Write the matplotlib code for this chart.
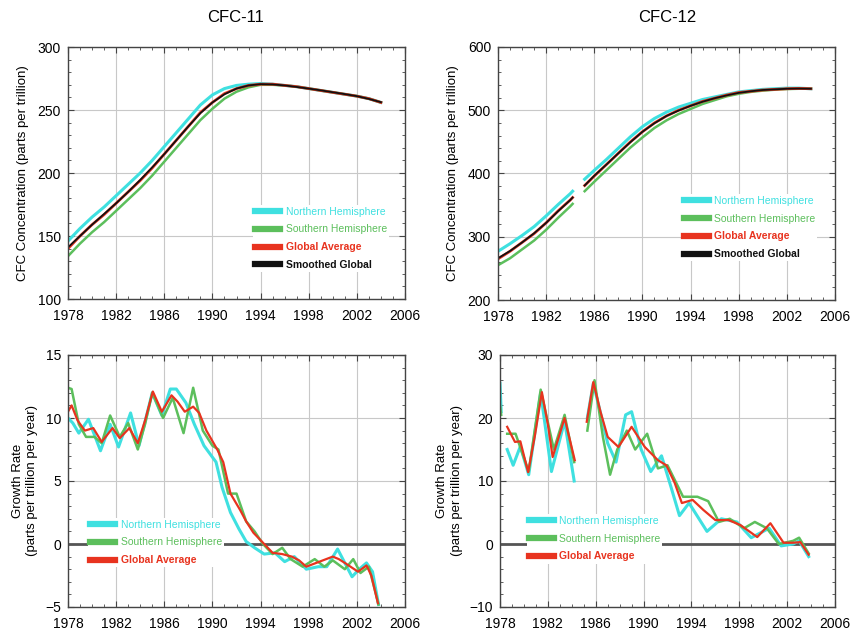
import numpy as np
import matplotlib
matplotlib.use("Agg")
import matplotlib.pyplot as plt
from matplotlib.lines import Line2D
from matplotlib.ticker import MultipleLocator

plt.rcParams['font.family'] = ['Liberation Sans', 'DejaVu Sans']

nan = np.nan

# ------------------------------------------------------------
# Data
# ------------------------------------------------------------
year_ticks = [1978, 1982, 1986, 1990, 1994, 1998, 2002, 2006]

# CFC-11 concentration (ppt)
c11_years = [1978, 1979, 1980, 1981, 1982, 1983, 1984, 1985, 1986, 1987, 1988, 1989, 1990,
             1991, 1992, 1993, 1994, 1995, 1996, 1997, 1998, 1999, 2000, 2001, 2002, 2003, 2004]
c11_nh = [146, 156, 165, 173, 182, 191, 200, 210, 221, 232, 243, 254, 262,
          267, 269.5, 270.5, 271, 270.5, 269.5, 268.5, 267, 265.5, 264, 262.5, 261, 259, 256]
c11_sh = [134, 144, 153, 161, 170, 179, 188, 198, 209, 220, 231, 242, 251,
          259, 264.5, 268, 270, 270, 269.5, 268.5, 267, 265.5, 264, 262.5, 261, 259, 256]
c11_glob = [140, 150, 159, 167, 176, 185, 194, 204, 215, 226, 237, 248, 256,
            263, 267, 269.5, 270.5, 270.5, 269.5, 268.5, 267, 265.5, 264, 262.5, 261, 259, 256]
c11_smooth = [141, 150, 159, 167.5, 176, 185, 194.5, 204.5, 215, 226, 237, 247.5, 256,
              262.5, 267, 269.5, 270.5, 270.3, 269.5, 268.3, 267, 265.6, 264.1, 262.6, 261, 258.8, 256.2]

# CFC-12 concentration (ppt), gap in 1984-85
c12_years = [1978, 1979, 1980, 1981, 1982, 1983, 1984, 1984.2, 1984.7, 1985.2, 1986, 1987, 1988,
             1989, 1990, 1991, 1992, 1993, 1994, 1995, 1996, 1997, 1998, 1999, 2000, 2001, 2002, 2003, 2004]
c12_nh = [277, 289, 302, 316, 333, 351, 368, 372, nan, 391, 405, 422, 440,
          458, 474, 487, 497, 505, 511, 517, 521, 525, 529, 531, 533, 534, 535, 535, 534]
c12_sh = [255, 266, 280, 294, 311, 330, 348, 352, nan, 372, 387, 405, 423,
          441, 457, 472, 484, 494, 502, 510, 516, 522, 526, 529, 531, 532.5, 533.5, 534, 534]
c12_glob = [265, 277, 291, 305, 322, 341, 358, 362, nan, 381, 396, 414, 432,
            450, 466, 480, 491, 500, 507, 514, 519, 524, 528, 530, 532, 533, 534, 534.5, 534]
c12_smooth = [266, 277.5, 291, 305.5, 322, 340.5, 358, 362, nan, 381, 396.5, 414, 432,
              449.5, 466, 479.5, 491, 499.5, 507, 513.5, 519, 523.5, 527.5, 530, 532, 533, 534, 534.3, 534]

# CFC-11 growth rate (ppt/yr)
g11_nh_yr = [1978.0, 1978.4, 1978.9, 1979.7, 1980.7, 1981.5, 1982.2, 1983.2, 1983.9, 1985.0, 1985.8,
             1986.5, 1987.0, 1987.8, 1988.5, 1989.3, 1990.3, 1990.8, 1991.5, 1992.2, 1992.8, 1993.5,
             1994.3, 1995.2, 1996.0, 1996.8, 1997.8, 1998.8, 1999.5, 2000.4, 2001.0, 2001.6, 2002.2,
             2002.8, 2003.3, 2003.8]
g11_nh = [10.0, 9.6, 8.8, 9.9, 7.4, 9.5, 7.7, 10.4, 7.8, 12.0, 10.2,
          12.3, 12.3, 11.2, 9.5, 7.8, 6.5, 4.5, 2.5, 1.2, 0.2, -0.3,
          -0.8, -0.7, -1.4, -1.0, -2.0, -1.8, -1.8, -0.4, -1.5, -2.6, -2.0,
          -1.5, -2.2, -4.8]
g11_sh_yr = [1978.0, 1978.3, 1978.9, 1979.5, 1980.2, 1980.8, 1981.5, 1982.3, 1983.0, 1983.8, 1984.4,
             1985.0, 1985.9, 1986.7, 1987.6, 1988.4, 1989.2, 1990.0, 1990.5, 1991.3, 1992.0, 1992.8,
             1993.5, 1994.2, 1995.0, 1995.8, 1996.5, 1997.5, 1998.5, 1999.3, 2000.0, 2001.0, 2001.7,
             2002.3, 2003.0, 2003.8]
g11_sh = [12.4, 12.3, 9.5, 8.5, 8.5, 8.0, 10.2, 8.5, 9.6, 7.5, 9.5,
          12.0, 10.0, 11.6, 8.8, 12.4, 9.0, 7.8, 7.5, 4.0, 4.0, 1.8,
          1.0, 0.0, -0.8, -0.3, -1.2, -1.8, -1.2, -1.8, -1.3, -2.0, -1.2,
          -2.3, -1.8, -4.8]
g11_glob_yr = [1978.0, 1978.3, 1978.8, 1979.4, 1980.1, 1980.8, 1981.7, 1982.3, 1983.1, 1983.8, 1984.4,
               1985.05, 1985.8, 1986.6, 1987.1, 1987.7, 1988.4, 1988.9, 1989.5, 1990.4, 1990.9, 1991.5,
               1992.3, 1992.8, 1993.4, 1994.2, 1995.0, 1995.8, 1996.6, 1997.2, 1997.8, 1998.9, 2000.0,
               2000.5, 2001.0, 2002.1, 2002.8, 2003.2, 2003.75]
g11_glob = [10.5, 11.0, 9.8, 9.0, 9.2, 8.1, 9.2, 8.4, 9.2, 8.0, 9.8,
            12.1, 10.5, 11.8, 11.3, 10.5, 10.9, 10.4, 9.0, 7.5, 6.5, 4.0,
            2.7, 1.8, 0.9, 0.1, -0.7, -0.8, -1.0, -1.3, -1.8, -1.4, -1.0,
            -1.2, -1.5, -2.2, -1.7, -2.5, -4.7]

# CFC-12 growth rate (ppt/yr)
g12_nh_yr = [1978.0, 1978.1, 1978.3, 1978.6, 1979.1, 1979.7, 1980.4, 1981.4, 1982.3, 1983.4, 1984.2,
             1984.7, 1985.3, 1985.8, 1986.5, 1987.0, 1987.7, 1988.5, 1989.0, 1989.8, 1990.6, 1991.5,
             1992.3, 1993.0, 1993.8, 1995.3, 1996.5, 1997.8, 1999.0, 2000.5, 2001.5, 2002.5, 2003.0,
             2003.8]
g12_nh = [25.5, 21.0, nan, 15.0, 12.5, 15.5, 11.0, 24.0, 11.5, 19.5, 10.0,
          nan, 20.0, 25.5, 20.0, 16.0, 13.0, 20.5, 21.0, 15.0, 11.5, 14.0,
          9.0, 4.5, 6.5, 2.0, 4.0, 3.5, 1.0, 2.5, -0.3, 0.0, 0.5,
          -2.0]
g12_sh_yr = [1978.0, 1978.1, 1978.3, 1978.6, 1979.3, 1980.4, 1981.4, 1982.5, 1983.4, 1984.2,
             1984.7, 1985.3, 1985.9, 1986.6, 1987.2, 1987.8, 1988.6, 1989.3, 1990.3, 1991.2, 1992.0,
             1993.3, 1994.5, 1995.4, 1996.3, 1997.2, 1998.4, 1999.3, 2000.3, 2001.3, 2002.5, 2003.0,
             2003.8]
g12_sh = [22.0, 20.5, nan, 17.5, 17.5, 11.5, 24.5, 15.0, 20.5, 13.0,
          nan, 18.0, 26.0, 17.0, 11.0, 15.0, 18.0, 15.0, 17.5, 12.0, 12.5,
          7.5, 7.5, 6.8, 3.5, 4.0, 2.5, 3.5, 2.5, 0.0, 0.5, 1.0,
          -1.5]
g12_glob_yr = [1978.6, 1979.25, 1979.7, 1980.35, 1980.9, 1981.5, 1982.0, 1982.4, 1983.4, 1984.25,
               1984.7, 1985.25, 1985.8, 1986.4, 1987.0, 1987.9, 1989.0, 1990.1, 1991.2, 1991.9, 1992.6,
               1993.2, 1994.1, 1995.0, 1996.0, 1997.1, 1998.1, 1999.5, 2000.6, 2001.7, 2002.5, 2003.1,
               2003.8]
g12_glob = [18.6, 16.2, 16.3, 11.4, 17.0, 24.1, 19.0, 13.8, 20.0, 13.3,
            nan, 19.4, 25.7, 21.0, 17.0, 15.4, 18.6, 15.4, 13.3, 12.5, 9.7,
            6.5, 7.0, 5.4, 3.8, 3.8, 3.0, 1.1, 3.3, 0.2, 0.2, 0.3,
            -1.7]

# ------------------------------------------------------------
# Styling
# ------------------------------------------------------------
CYAN = '#3fe0e0'
GREEN = '#5cbf5c'
RED = '#e8331f'
BLACK = '#111111'

fig = plt.figure(figsize=(8.54, 6.41), dpi=100)
W, H = 854, 641


def make_axes(left, top, right, bottom):
    return fig.add_axes([left / W, 1 - bottom / H, (right - left) / W, (bottom - top) / H])


ax_tl = make_axes(68, 47, 405, 299)
ax_tr = make_axes(498, 47, 835, 300)
ax_bl = make_axes(68, 355, 405, 607)
ax_br = make_axes(500, 355, 835, 607)


def style(ax, ylim, ymaj, ymin):
    ax.set_xlim(1978, 2006)
    ax.set_ylim(*ylim)
    ax.set_xticks(year_ticks)
    ax.xaxis.set_minor_locator(MultipleLocator(1))
    ax.yaxis.set_major_locator(MultipleLocator(ymaj))
    ax.yaxis.set_minor_locator(MultipleLocator(ymin))
    ax.tick_params(which='both', direction='in', top=True, right=True, color='#444444')
    ax.tick_params(which='major', length=4, labelsize=10)
    ax.tick_params(axis='x', which='major', pad=7)
    ax.tick_params(axis='y', which='major', pad=5)
    ax.tick_params(which='minor', length=2)
    ax.grid(True, which='major', color='#c8c8c8', lw=0.8)
    ax.set_axisbelow(True)
    for s in ax.spines.values():
        s.set_color('#444444')
        s.set_linewidth(1.0)


def add_legend(ax, entries, x, y, bold):
    handles = [Line2D([], [], color=c, lw=4.5) for _, c in entries]
    leg = ax.legend(handles, [t for t, _ in entries], loc='upper left',
                    bbox_to_anchor=(x, y), fontsize=7.5, frameon=True,
                    facecolor='white', edgecolor='none', framealpha=1,
                    handlelength=2.4, handletextpad=0.5, labelspacing=0.75,
                    borderpad=0.2, borderaxespad=0)
    for txt, (_, c), b in zip(leg.get_texts(), entries, bold):
        txt.set_color(c)
        if b:
            txt.set_fontweight('bold')
    leg.set_zorder(5)


# ---- CFC-11 concentration ----
ax_tl.plot(c11_years, c11_nh, color=CYAN, lw=2.2)
ax_tl.plot(c11_years, c11_sh, color=GREEN, lw=1.8)
ax_tl.plot(c11_years, c11_glob, color=RED, lw=2.0)
ax_tl.plot(c11_years, c11_smooth, color=BLACK, lw=1.3)
style(ax_tl, (100, 300), 50, 10)
ax_tl.set_ylabel('CFC Concentration (parts per trillion)', fontsize=9.5, labelpad=6)
add_legend(ax_tl, [('Northern Hemisphere', CYAN), ('Southern Hemisphere', GREEN),
                   ('Global Average', RED), ('Smoothed Global', BLACK)],
           0.55, 0.375, [False, False, True, True])

# ---- CFC-12 concentration ----
ax_tr.plot(c12_years, c12_nh, color=CYAN, lw=2.2)
ax_tr.plot(c12_years, c12_sh, color=GREEN, lw=1.8)
ax_tr.plot(c12_years, c12_glob, color=RED, lw=2.0)
ax_tr.plot(c12_years, c12_smooth, color=BLACK, lw=1.3)
style(ax_tr, (200, 600), 100, 20)
ax_tr.set_ylabel('CFC Concentration (parts per trillion)', fontsize=9.5, labelpad=6)
add_legend(ax_tr, [('Northern Hemisphere', CYAN), ('Southern Hemisphere', GREEN),
                   ('Global Average', RED), ('Smoothed Global', BLACK)],
           0.545, 0.42, [False, False, True, True])

# ---- CFC-11 growth rate ----
ax_bl.axhline(0, color='#555555', lw=2, zorder=1.5)
ax_bl.plot(g11_nh_yr, g11_nh, color=CYAN, lw=2.2)
ax_bl.plot(g11_sh_yr, g11_sh, color=GREEN, lw=1.8)
ax_bl.plot(g11_glob_yr, g11_glob, color=RED, lw=1.6)
style(ax_bl, (-5, 15), 5, 1)
ax_bl.set_ylabel('Growth Rate\n(parts per trillion per year)', fontsize=9.5,
                 linespacing=1.25, labelpad=5)
add_legend(ax_bl, [('Northern Hemisphere', CYAN), ('Southern Hemisphere', GREEN),
                   ('Global Average', RED)],
           0.06, 0.355, [False, False, True])

# ---- CFC-12 growth rate ----
ax_br.axhline(0, color='#555555', lw=2, zorder=1.5)
ax_br.plot(g12_nh_yr, g12_nh, color=CYAN, lw=2.2)
ax_br.plot(g12_sh_yr, g12_sh, color=GREEN, lw=1.8)
ax_br.plot(g12_glob_yr, g12_glob, color=RED, lw=1.6)
style(ax_br, (-10, 30), 10, 2)
ax_br.set_ylabel('Growth Rate\n(parts per trillion per year)', fontsize=9.5,
                 linespacing=1.25, labelpad=5)
add_legend(ax_br, [('Northern Hemisphere', CYAN), ('Southern Hemisphere', GREEN),
                   ('Global Average', RED)],
           0.08, 0.37, [False, False, True])

fig.text(236 / W, 1 - 17 / H, 'CFC-11', ha='center', va='center', fontsize=12)
fig.text(667 / W, 1 - 17 / H, 'CFC-12', ha='center', va='center', fontsize=12)

fig.savefig('out.png', dpi=100)
